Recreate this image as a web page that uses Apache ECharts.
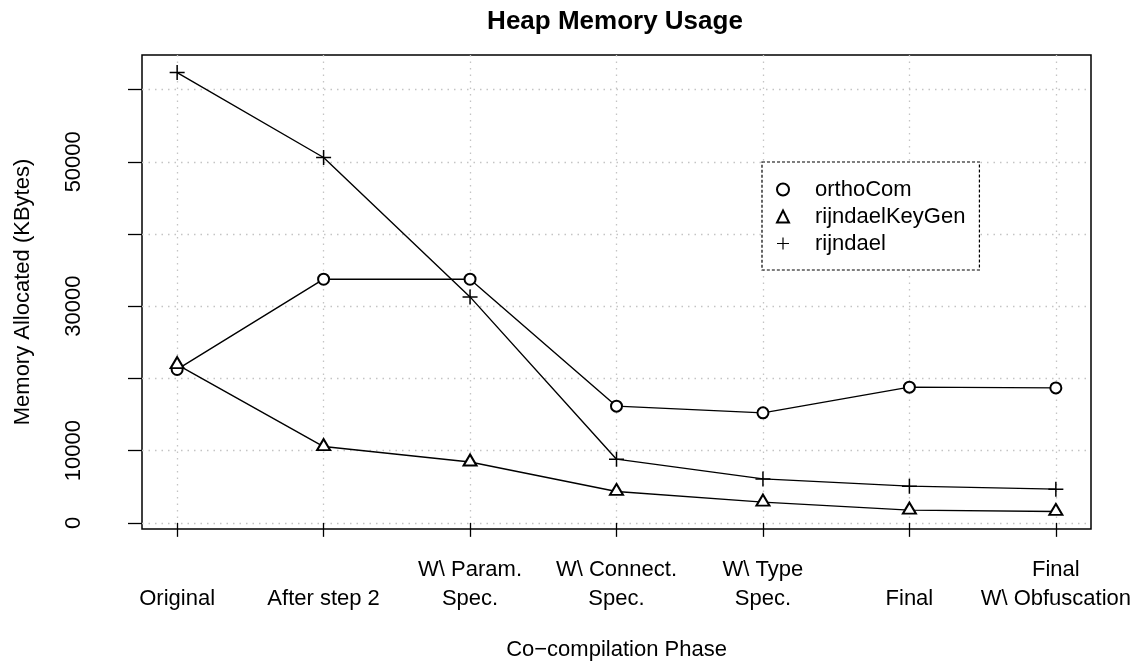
<!DOCTYPE html>
<html>
<head>
<meta charset="utf-8">
<title>Heap Memory Usage</title>
<script src="https://cdn.jsdelivr.net/npm/echarts@6/dist/echarts.min.js"></script>
<style>
  html, body { margin: 0; padding: 0; background: #fff; }
  #chart { width: 1141px; height: 666px; }
</style>
</head>
<body>
<div id="chart"></div>
<script>
var phases = ['Original', 'After step 2', 'W\\ Param.\nSpec.', 'W\\ Connect.\nSpec.',
  'W\\ Type\nSpec.', 'Final', 'Final\nW\\ Obfuscation'];
var phasePos = [1, 2, 3, 4, 5, 6, 7];

// KBytes
var orthoCom = [21240, 33740, 33740, 16160, 15230, 18790, 18690];
var rijndaelKeyGen = [21915, 10564, 8430, 4350, 2870, 1760, 1580];
var rijndael = [62355, 50590, 31290, 8820, 6090, 5080, 4665];

var yTicks = [0, 10000, 20000, 30000, 40000, 50000, 60000];
var yLabels = [0, 10000, 30000, 50000];

(function () {
  var font = 'Liberation Sans, Arial, Helvetica, sans-serif';
  var ink = '#000';
  var gridCol = '#c4c4c4';
  var plus = 'path://M0,6.3h14v1.4h-14z M6.3,0h1.4v14h-1.4z';

  // R style axis range: data range plus 4% on each side
  var all = orthoCom.concat(rijndaelKeyGen, rijndael);
  var lo = Math.min.apply(null, all), hi = Math.max.apply(null, all);
  var yMin = lo - 0.04 * (hi - lo), yMax = hi + 0.04 * (hi - lo);
  var xMin = 1 - 0.04 * 6, xMax = 7 + 0.04 * 6;

  function pairs(vals) {
    return vals.map(function (v, i) { return [phasePos[i], v]; });
  }

  var chart = echarts.init(document.getElementById('chart'), null, { renderer: 'canvas' });

  var base = {
    type: 'line',
    showAllSymbol: true,
    lineStyle: { color: ink, width: 1.4 },
    itemStyle: { color: ink, borderWidth: 1.3 },
    emphasis: { disabled: true },
    z: 3
  };

  chart.setOption({
    animation: false,
    textStyle: { fontFamily: font, color: ink },
    graphic: [{
      type: 'text',
      x: 615, y: 22,
      style: {
        text: 'Heap Memory Usage',
        font: 'bold 26px ' + font,
        fill: ink,
        textAlign: 'center',
        textVerticalAlign: 'middle'
      }
    }],
    grid: {
      left: 142, right: 50, top: 55, bottom: 137,
      show: true, borderColor: ink, borderWidth: 1.5, backgroundColor: 'transparent'
    },
    legend: {
      orient: 'vertical',
      left: 762, top: 162,
      padding: [14, 14, 13, 14],
      itemGap: 0,
      itemWidth: 12, itemHeight: 12,
      backgroundColor: '#fff',
      borderColor: ink, borderWidth: 1.2, borderType: [3, 2],
      selectedMode: false,
      textStyle: { fontSize: 22, fontFamily: font, color: ink, lineHeight: 27, padding: [0, 0, 0, 21] },
      data: [
        { name: 'orthoCom', icon: 'emptyCircle' },
        { name: 'rijndaelKeyGen', icon: 'emptyTriangle' },
        { name: 'rijndael', icon: plus }
      ]
    },
    xAxis: {
      type: 'value',
      min: xMin, max: xMax,
      name: 'Co\u2212compilation Phase',
      nameLocation: 'middle',
      nameGap: 110,
      nameTextStyle: { fontSize: 22, fontFamily: font, color: ink },
      axisLine: { show: false },
      axisTick: { show: true, inside: false, length: 14, customValues: phasePos,
        lineStyle: { color: ink, width: 1.3 } },
      axisLabel: {
        customValues: phasePos,
        fontSize: 22, fontFamily: font, color: ink, lineHeight: 29, margin: 26,
        formatter: function (v) {
          var s = phases[Math.round(v) - 1] || '';
          return s.indexOf('\n') < 0 ? '\n' + s : s;
        }
      },
      splitLine: { show: true, lineStyle: { color: gridCol, type: [1.5, 5], width: 1.3 } }
    },
    yAxis: {
      type: 'value',
      min: yMin, max: yMax,
      name: 'Memory Allocated (KBytes)',
      nameLocation: 'middle',
      nameGap: 108,
      nameTextStyle: { fontSize: 22, fontFamily: font, color: ink },
      axisLine: { show: false },
      axisTick: { show: true, inside: false, length: 14, customValues: yTicks,
        lineStyle: { color: ink, width: 1.3 } },
      axisLabel: {
        customValues: yLabels,
        rotate: 90,
        fontSize: 22, fontFamily: font, color: ink, margin: 57,
        formatter: function (v) { return String(v); }
      },
      splitLine: { show: true, lineStyle: { color: gridCol, type: [1.5, 5], width: 1.3 } }
    },
    series: [
      Object.assign({}, base, {
        name: 'orthoCom', data: pairs(orthoCom),
        symbol: 'emptyCircle', symbolSize: 11
      }),
      Object.assign({}, base, {
        name: 'rijndaelKeyGen', data: pairs(rijndaelKeyGen),
        symbol: 'emptyTriangle', symbolSize: [13, 11], symbolOffset: [0, -2]
      }),
      Object.assign({}, base, {
        name: 'rijndael', data: pairs(rijndael),
        symbol: plus, symbolSize: 15
      })
    ]
  });
  window.addEventListener('resize', function () { chart.resize(); });
})();
</script>
</body>
</html>
